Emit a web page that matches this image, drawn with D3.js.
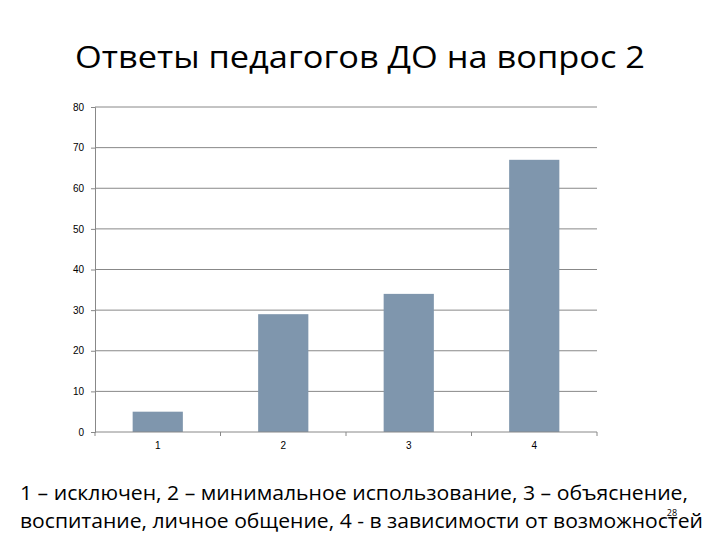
<!DOCTYPE html>
<html>
<head>
<meta charset="utf-8">
<script src="https://cdn.jsdelivr.net/npm/d3@7"></script>
<style>
  body { margin: 0; background: #fff; }
  .axis text { font-family: "Liberation Sans", Arial, sans-serif; font-size: 10px; fill: #000; }
  .axis path, .axis line { stroke: #888; }
</style>
</head>
<body>
<div id="chart"></div>
<script>
// Data
let categories = ["1", "2", "3", "4"];
let values = [5, 29, 34, 67];
let yTicks = [0, 10, 20, 30, 40, 50, 60, 70, 80];

let W = 720, H = 540;
let margin = { top: 107, right: 123, bottom: 108, left: 95 };
let width = W - margin.left - margin.right,
	height = H - margin.top - margin.bottom;

let svg = d3.select("#chart").append("svg")
	.attr("width", W)
	.attr("height", H);

// Title
svg.append("text")
	.attr("x", 75)
	.attr("y", 68)
	.style("font-family", "'Open Sans', sans-serif")
	.style("font-size", "31px")
	.attr("textLength", 570)
	.attr("lengthAdjust", "spacingAndGlyphs")
	.text("Ответы педагогов ДО на вопрос 2");

let g = svg.append("g")
	.attr("transform", "translate(" + margin.left + "," + margin.top + ")");

let x = d3.scaleBand()
	.domain(categories)
	.range([0, width])
	.paddingInner(0.6)
	.paddingOuter(0.3);

let y = d3.scaleLinear()
	.domain([0, 80])
	.range([height, 0]);

// Horizontal gridlines
g.selectAll(".grid")
	.data(yTicks.slice(1))
	.enter().append("line")
	.attr("class", "grid")
	.attr("x1", 0)
	.attr("x2", width)
	.attr("y1", d => y(d))
	.attr("y2", d => y(d))
	.attr("stroke", "#888")
	.attr("stroke-width", 1);

// Bars
g.selectAll(".bar")
	.data(values)
	.enter().append("rect")
	.attr("class", "bar")
	.attr("x", (d, i) => x(categories[i]))
	.attr("y", d => y(d))
	.attr("width", x.bandwidth())
	.attr("height", d => height - y(d))
	.attr("fill", "#7f96ad");

// Y axis
let yAxis = d3.axisLeft(y)
	.tickValues(yTicks)
	.tickSize(4)
	.tickPadding(7);
g.append("g")
	.attr("class", "y axis")
	.call(yAxis);

// X axis: ticks at category boundaries, labels centered
let step = width / categories.length;
let xAxisG = g.append("g")
	.attr("class", "x axis")
	.attr("transform", "translate(0," + height + ")");
xAxisG.append("line")
	.attr("x1", 0).attr("x2", width)
	.attr("stroke", "#888");
xAxisG.selectAll(".xt")
	.data(d3.range(categories.length + 1))
	.enter().append("line")
	.attr("class", "xt")
	.attr("x1", d => d * step).attr("x2", d => d * step)
	.attr("y1", 0).attr("y2", 4)
	.attr("stroke", "#888");
xAxisG.selectAll(".xl")
	.data(categories)
	.enter().append("text")
	.attr("class", "xl")
	.attr("x", d => x(d) + x.bandwidth() / 2)
	.attr("y", 17)
	.attr("text-anchor", "middle")
	.text(d => d);

// Caption lines
let caption = [
	"1 – исключен, 2 – минимальное использование, 3 – объяснение,",
	"воспитание, личное общение, 4 -  в зависимости от возможностей"
];
svg.selectAll(".cap")
	.data(caption)
	.enter().append("text")
	.attr("class", "cap")
	.attr("x", 20)
	.attr("y", (d, i) => 500 + i * 28)
	.style("font-family", "'Open Sans', sans-serif")
	.style("font-size", "20px")
	.attr("textLength", (d, i) => i === 0 ? 668 : 683)
	.attr("lengthAdjust", "spacingAndGlyphs")
	.text(d => d);

// Slide number
svg.append("text")
	.attr("x", 672)
	.attr("y", 516)
	.attr("text-anchor", "middle")
	.style("font-family", "'Open Sans', sans-serif")
	.style("font-size", "9px")
	.text("28");
</script>
</body>
</html>
